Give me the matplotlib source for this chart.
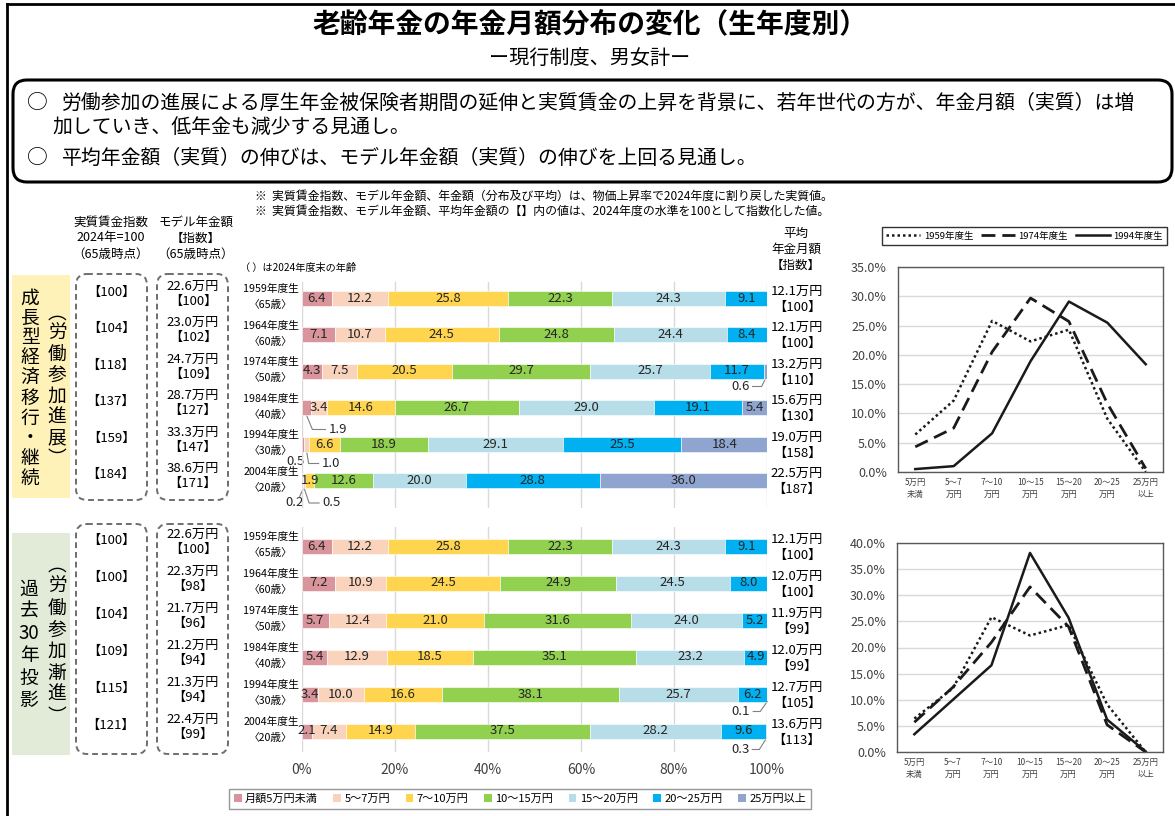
"""
Recreate: 老齢年金の年金月額分布の変化（生年度別） — stacked bars + distribution lines.
"""

import numpy as np
import matplotlib
matplotlib.use("Agg")
import matplotlib.pyplot as plt
from matplotlib.patches import FancyBboxPatch, Rectangle, Patch
from matplotlib.ticker import FuncFormatter

plt.rcParams["font.family"] = ["Noto Sans CJK JP", "DejaVu Sans"]

W, H = 1175, 816

# --- data ---
bins = ["月額5万円未満", "5～7万円", "7～10万円", "10～15万円", "15～20万円", "20～25万円", "25万円以上"]
line_cats = ["5万円\n未満", "5～7\n万円", "7～10\n万円", "10～15\n万円", "15～20\n万円", "20～25\n万円", "25万円\n以上"]
bin_colors = ["#D9959B", "#F9D3BC", "#FFD44F", "#92D050", "#B7DEE8", "#00B0F0", "#8FA5CF"]

cohorts = ["1959年度生", "1964年度生", "1974年度生", "1984年度生", "1994年度生", "2004年度生"]
ages = ["〈65歳〉", "〈60歳〉", "〈50歳〉", "〈40歳〉", "〈30歳〉", "〈20歳〉"]

# 成長型経済移行・継続（労働参加進展）
growth_dist = [
    [6.4, 12.2, 25.8, 22.3, 24.3, 9.1, 0.0],
    [7.1, 10.7, 24.5, 24.8, 24.4, 8.4, 0.0],
    [4.3, 7.5, 20.5, 29.7, 25.7, 11.7, 0.6],
    [1.9, 3.4, 14.6, 26.7, 29.0, 19.1, 5.4],
    [0.5, 1.0, 6.6, 18.9, 29.1, 25.5, 18.4],
    [0.2, 0.5, 1.9, 12.6, 20.0, 28.8, 36.0],
]
growth_wage_idx = [100, 104, 118, 137, 159, 184]
growth_model = ["22.6", "23.0", "24.7", "28.7", "33.3", "38.6"]
growth_model_idx = [100, 102, 109, 127, 147, 171]
growth_avg = ["12.1", "12.1", "13.2", "15.6", "19.0", "22.5"]
growth_avg_idx = [100, 100, 110, 130, 158, 187]

# 過去30年投影（労働参加漸進）
past_dist = [
    [6.4, 12.2, 25.8, 22.3, 24.3, 9.1, 0.0],
    [7.2, 10.9, 24.5, 24.9, 24.5, 8.0, 0.0],
    [5.7, 12.4, 21.0, 31.6, 24.0, 5.2, 0.0],
    [5.4, 12.9, 18.5, 35.1, 23.2, 4.9, 0.0],
    [3.4, 10.0, 16.6, 38.1, 25.7, 6.2, 0.1],
    [2.1, 7.4, 14.9, 37.5, 28.2, 9.6, 0.3],
]
past_wage_idx = [100, 100, 104, 109, 115, 121]
past_model = ["22.6", "22.3", "21.7", "21.2", "21.3", "22.4"]
past_model_idx = [100, 98, 96, 94, 94, 99]
past_avg = ["12.1", "12.0", "11.9", "12.0", "12.7", "13.6"]
past_avg_idx = [100, 100, 99, 99, 105, 113]

line_rows = [0, 2, 4]  # 1959, 1974, 1994
line_names = ["1959年度生", "1974年度生", "1994年度生"]

# --- layout (pixels) ---
BAR_L, BAR_R = 302, 767
BAR_H = 15


def px_axes(l, t, r, b):
    return fig.add_axes([l / W, 1 - b / H, (r - l) / W, (b - t) / H])


def px_x(v):
    return BAR_L + v / 100.0 * (BAR_R - BAR_L)


fig = plt.figure(figsize=(W / 100, H / 100), dpi=100)
bg = fig.add_axes([0, 0, 1, 1])
bg.set_xlim(0, W)
bg.set_ylim(H, 0)
bg.axis("off")

# frame
bg.plot([7, 7], [4, H], color="black", lw=2)
bg.plot([7, W], [4, 4], color="black", lw=2)

# title
bg.text(590, 24, "老齢年金の年金月額分布の変化（生年度別）", ha="center", va="center",
        fontsize=20, fontweight="bold")
bg.text(590, 58, "ー現行制度、男女計ー", ha="center", va="center", fontsize=14.5)

bg.add_patch(FancyBboxPatch((13, 80), 1159, 102, boxstyle="round,pad=0,rounding_size=14",
                            fc="white", ec="black", lw=2.2))
bg.text(37, 103, "○", ha="center", va="center", fontsize=15)
bg.text(62, 103, "労働参加の進展による厚生年金被保険者期間の延伸と実質賃金の上昇を背景に、若年世代の方が、年金月額（実質）は増",
        ha="left", va="center", fontsize=14.3)
bg.text(52, 127, "加していき、低年金も減少する見通し。", ha="left", va="center", fontsize=14.3)
bg.text(37, 158, "○", ha="center", va="center", fontsize=15)
bg.text(62, 158, "平均年金額（実質）の伸びは、モデル年金額（実質）の伸びを上回る見通し。",
        ha="left", va="center", fontsize=14.3)

# notes
bg.text(255, 196, "※  実質賃金指数、モデル年金額、年金額（分布及び平均）は、物価上昇率で2024年度に割り戻した実質値。",
        ha="left", va="center", fontsize=8.6)
bg.text(255, 211, "※  実質賃金指数、モデル年金額、平均年金額の【】内の値は、2024年度の水準を100として指数化した値。",
        ha="left", va="center", fontsize=8.6)

# column headers
for x, lines in [(111, ["実質賃金指数", "2024年=100", "（65歳時点）"]),
                 (196, ["モデル年金額", "【指数】", "（65歳時点）"]),
                 (796, ["平均", "年金月額", "【指数】"])]:
    y0 = 222 if x < 700 else 233
    for k, s in enumerate(lines):
        bg.text(x, y0 + 16 * k, s, ha="center", va="center", fontsize=9)
bg.text(240, 268, "（ ）は2024年度末の年齢", ha="left", va="center", fontsize=7.3)


def vtext(x, y0, step, cells, fs=13.5):
    for k, c in enumerate(cells):
        bg.text(x, y0 + k * step, c, ha="center", va="center", fontsize=fs)


# scenario side labels
bg.add_patch(Rectangle((12, 275), 58, 223, fc="#FFF2B8", ec="none"))
vtext(30, 298, 20, list("成長型経済移行・継続"))
vtext(57, 313, 20.8, ["︵", "労", "働", "参", "加", "進", "展", "︶"])

bg.add_patch(Rectangle((12, 533), 58, 222, fc="#E2EAD8", ec="none"))
vtext(29, 589, 22.3, ["過", "去", "30", "年", "投", "影"])
vtext(57, 565, 21.6, ["︵", "労", "働", "参", "加", "漸", "進", "︶"])

# outside small-value labels: (row, seg) -> (label dx, dy, ha, leader offsets)
growth_outside = {
    (3, 0): (22, 14.5, "left", [(0, 0), (6, 14.5), (19, 14.5)]),
    (4, 0): (1, 10, "right", []),
    (4, 1): (15, 12, "left", [(0, 0), (2, 12), (12, 12)]),
    (5, 0): (1.5, 15, "right", [(1, 0), (-3, 9)]),
    (5, 1): (18, 15, "left", [(0, 0), (5, 15), (15, 15)]),
    (2, 6): (-16, 8, "right", [(0, 0), (-4, 8), (-13, 8)]),
}
past_outside = {
    (4, 6): (-17, 10, "right", [(0, 0), (-7, 10), (-14, 10)]),
    (5, 6): (-17, 11, "right", [(0, 0), (-7, 11), (-14, 11)]),
}


def bar_panel(top, bottom, y0, step, dist, wage_idx, model, model_idx, avg, avg_idx,
              outside, show_x):
    ax = px_axes(BAR_L, top, BAR_R, bottom)
    ax.set_facecolor("none")
    rows = np.arange(len(cohorts))
    data = np.array(dist)
    left = np.zeros(len(rows))
    for j in range(data.shape[1]):
        ax.barh(rows, data[:, j], left=left, height=BAR_H / step, color=bin_colors[j],
                edgecolor="white", linewidth=0.4, zorder=2)
        for i in rows:
            v = data[i, j]
            if v <= 0:
                continue
            if (i, j) in outside:
                dx, dy, ha, leader = outside[(i, j)]
                axp = px_x(left[i] + v / 2)
                ayp = y0 + step * i + BAR_H / 2
                if leader:
                    bg.plot([axp + p[0] for p in leader], [ayp + p[1] for p in leader],
                            color="#808080", lw=0.8, zorder=5)
                bg.text(axp + dx, ayp + dy, f"{v:.1f}", ha=ha, va="center",
                        fontsize=9.5, color="#262626")
            else:
                ax.text(left[i] + v / 2, i, f"{v:.1f}", ha="center", va="center",
                        fontsize=9.5, color="#262626", zorder=3)
        left = left + data[:, j]
    ax.set_xlim(0, 100)
    ax.set_ylim((bottom - y0) / step, (top - y0) / step)
    ax.set_xticks(np.arange(0, 101, 20))
    ax.grid(axis="x", color="#D9D9D9", lw=1, zorder=0)
    ax.set_axisbelow(True)
    ax.set_yticks([])
    for s in ax.spines.values():
        s.set_visible(False)
    ax.tick_params(length=0, pad=8, labelsize=10, labelcolor="#404040")
    ax.xaxis.set_major_formatter(FuncFormatter(lambda v, p: f"{v:.0f}%"))
    if not show_x:
        ax.set_xticklabels([])

    for i in rows:
        yc = y0 + step * i
        bg.text(271, yc - 9, cohorts[i], ha="center", va="center", fontsize=7.7)
        bg.text(271, yc + 7, ages[i], ha="center", va="center", fontsize=7.7)
        bg.text(111, yc - 6, f"【{wage_idx[i]}】", ha="center", va="center", fontsize=9.5)
        bg.text(193, yc - 12, f"{model[i]}万円", ha="center", va="center", fontsize=9.5)
        bg.text(193, yc + 3, f"【{model_idx[i]}】", ha="center", va="center", fontsize=9.5)
        bg.text(797, yc - 7, f"{avg[i]}万円", ha="center", va="center", fontsize=9.5)
        bg.text(797, yc + 9, f"【{avg_idx[i]}】", ha="center", va="center", fontsize=9.5)
    return ax


# dashed boxes
for (t, b) in [(274, 500), (524, 754)]:
    for (l, r) in [(76, 147), (157, 228)]:
        bg.add_patch(FancyBboxPatch((l, t), r - l, b - t, boxstyle="round,pad=0,rounding_size=11",
                                    fc="none", ec="#6E6E6E", lw=1.4, ls=(0, (3, 2))))

bar_panel(282, 508, 298, 36.5, growth_dist, growth_wage_idx, growth_model, growth_model_idx,
          growth_avg, growth_avg_idx, growth_outside, False)
bar_panel(527, 752, 546, 37, past_dist, past_wage_idx, past_model, past_model_idx,
          past_avg, past_avg_idx, past_outside, True)

# bar legend
leg_handles = [Patch(facecolor=c, edgecolor="none") for c in bin_colors]
fig.legend(leg_handles, bins, loc="center", bbox_to_anchor=(520 / W, 1 - 799 / H),
           bbox_transform=fig.transFigure, ncol=7, fontsize=8, handlelength=0.7,
           handleheight=0.7, handletextpad=0.3, columnspacing=1.4, frameon=True,
           fancybox=False, edgecolor="#7F7F7F", borderpad=0.45)

# line charts
line_styles = [dict(ls=(0, (1, 1.2)), lw=1.8), dict(ls=(0, (5, 2.5)), lw=2.0), dict(ls="-", lw=1.8)]


def line_panel(l, t, r, b, dist, ymax):
    ax = px_axes(l, t, r, b)
    x = np.arange(len(line_cats))
    handles = []
    for row, name, st in zip(line_rows, line_names, line_styles):
        h, = ax.plot(x, dist[row], color="#1A1A1A", label=name, **st)
        handles.append(h)
    ax.set_xlim(-0.45, 6.45)
    ax.set_ylim(0, ymax)
    ax.set_yticks(np.arange(0, ymax + 0.1, 5))
    ax.yaxis.set_major_formatter(FuncFormatter(lambda v, p: f"{v:.1f}%"))
    ax.set_xticks(x)
    ax.set_xticklabels(line_cats, fontsize=6, linespacing=1.5)
    ax.tick_params(axis="y", length=0, pad=8, labelsize=9, labelcolor="#404040")
    ax.tick_params(axis="x", length=0, pad=4, labelcolor="#404040")
    ax.grid(axis="y", color="#D9D9D9", lw=1)
    ax.set_axisbelow(True)
    for s in ax.spines.values():
        s.set_color("#595959")
        s.set_linewidth(1.0)
    return ax, handles


ax_l1, hs = line_panel(898, 267, 1163, 472, growth_dist, 35)
line_panel(897, 543, 1163, 752, past_dist, 40)

fig.legend(hs, line_names, loc="center left", bbox_to_anchor=(877 / W, 1 - 236 / H),
           bbox_transform=fig.transFigure, ncol=3, fontsize=6.8, handlelength=3.6,
           handletextpad=0.4, columnspacing=0.8, frameon=True, fancybox=False,
           edgecolor="black", borderpad=0.45)

fig.savefig("out.png", dpi=100)
plt.close(fig)
